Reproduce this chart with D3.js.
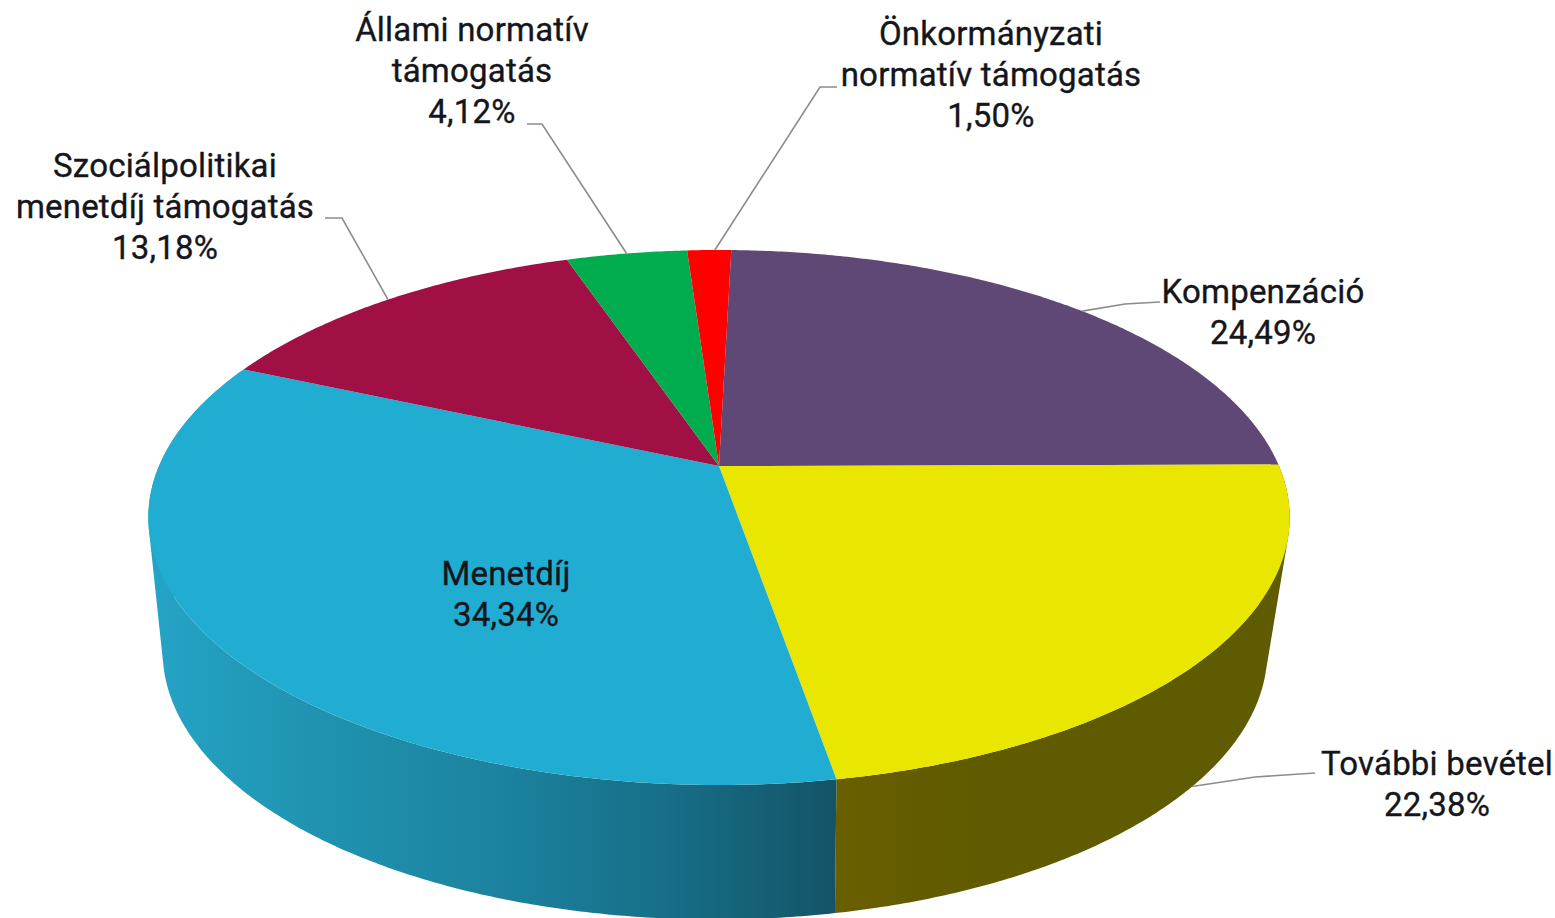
<!DOCTYPE html>
<html lang="hu">
<head>
<meta charset="utf-8">
<title>Bevételi szerkezet</title>
<script src="https://cdn.jsdelivr.net/npm/d3@7/dist/d3.min.js"></script>
<style>
html,body{margin:0;padding:0;background:#fff;overflow:hidden}
svg{display:block}
text{font-family:"Roboto","Liberation Sans",sans-serif;font-size:33px;fill:#14161c;text-anchor:middle;letter-spacing:0.2px;stroke:#14161c;stroke-width:.35px}
</style>
</head>
<body>
<svg id="chart" width="1555" height="918"></svg>
<script>
const categories = ["Kompenzáció","További bevétel","Menetdíj","Szociálpolitikai menetdíj támogatás","Állami normatív támogatás","Önkormányzati normatív támogatás"];
const shares = [24.49,22.38,34.34,13.18,4.12,1.50];
const shareLabels = ["24,49%","22,38%","34,34%","13,18%","4,12%","1,50%"];
const labelLines = [["Kompenzáció"],["További bevétel"],["Menetdíj"],["Szociálpolitikai","menetdíj támogatás"],["Állami normatív","támogatás"],["Önkormányzati","normatív támogatás"]];
const topColors = ["#5f4876","#e9e600","#21add2","#a01045","#00ac4e","#ff0000"];

// styling / layout (not data)
const W = 1555, H = 918, deg = Math.PI / 180, rot = 1.5 * deg, p = 0.1925;
const topDisc = {x:719, y:466, a:560, b:257.6, twist:0};
const botDisc = {x:715, y:600, a:542, b:258, twist:-0.55*deg};
const labelPos = [
  {x:1263,y:303,elbow:[[1160,302],[1125,304]],disc:topDisc,nudge:1.6},
  {x:1437,y:775,elbow:[[1315,773],[1255,777]],disc:botDisc,nudge:0},
  {x:506,y:585,elbow:null},
  {x:165,y:177,elbow:[[325,218],[342,218]],disc:topDisc,nudge:0},
  {x:472,y:41,elbow:[[527,124],[542,124]],disc:topDisc,nudge:0},
  {x:991,y:45,elbow:[[837,87],[820,87]],disc:topDisc,nudge:0.7}
];
const lineStep = 41;

const svg = d3.select("#chart").attr("viewBox",`0 0 ${W} ${H}`);
const pie = d3.pie().sort(null).startAngle(rot).endAngle(rot + 2*Math.PI);
const arcs = pie(shares);

function project(disc, t){
  const a = t + disc.twist, X = Math.sin(a), Y = -Math.cos(a), d = 1 - p*Y;
  return [disc.x + disc.a*X/d, disc.y + disc.b*Y/d];
}
const line = d3.line();
function arcPoints(disc,a0,a1){
  const n = Math.max(8,Math.ceil((a1-a0)*120));
  return d3.range(n+1).map(i=>project(disc,a0+(a1-a0)*i/n));
}
// wall = union of thin quads between matching angles; every quad is wound the same way
// so the overlaps near the tangents do not cancel out under the nonzero fill rule
function wallPath(a0,a1){
  const up = arcPoints(topDisc,a0,a1), lo = arcPoints(botDisc,a0,a1);
  return d3.range(up.length-1).map(i=>{
    const q=[up[i],up[i+1],lo[i+1],lo[i]];
    return line(d3.polygonArea(q)<0?q.reverse():q)+"Z";
  }).join("");
}

const defs = svg.append("defs");
const blue = defs.append("linearGradient").attr("id","sideBlue").attr("gradientUnits","userSpaceOnUse")
  .attr("x1",150).attr("y1",0).attr("x2",836).attr("y2",0);
[[0,"#25a3c6"],[0.25,"#1f93b0"],[0.5,"#1c83a0"],[0.75,"#176f88"],[1,"#135467"]].forEach(([o,c])=>blue.append("stop").attr("offset",o).attr("stop-color",c));
const olive = defs.append("linearGradient").attr("id","sideOlive").attr("gradientUnits","userSpaceOnUse")
  .attr("x1",836).attr("y1",0).attr("x2",1290).attr("y2",0);
[[0,"#6a5f00"],[0.2,"#625b00"],[1,"#5e5b00"]].forEach(([o,c])=>olive.append("stop").attr("offset",o).attr("stop-color",c));

// side walls: only the two front slices are visible
const sideFill = {1:"url(#sideOlive)",2:"url(#sideBlue)"};
svg.append("g").selectAll("path")
  .data(arcs.filter(d=>sideFill[d.index]))
  .join("path")
  .attr("fill",d=>sideFill[d.index])
  .attr("d",d=>wallPath(d.startAngle,d.endAngle));

// top faces
svg.append("g").selectAll("path")
  .data(arcs)
  .join("path")
  .attr("fill",d=>topColors[d.index])
  .attr("d",d=>line([[topDisc.x,topDisc.y]].concat(arcPoints(topDisc,d.startAngle,d.endAngle)))+"Z");

// leader lines
svg.append("g").selectAll("path")
  .data(arcs.filter(d=>labelPos[d.index].elbow))
  .join("path")
  .attr("fill","none").attr("stroke","#8c8c8c").attr("stroke-width",1.6)
  .attr("d",d=>{
    const l = labelPos[d.index], mid=(d.startAngle+d.endAngle)/2 + l.nudge*deg;
    return line(l.elbow.concat([project(l.disc,mid)]));
  });

// labels
const lab = svg.append("g").selectAll("text")
  .data(arcs)
  .join("text")
  .attr("x",d=>labelPos[d.index].x)
  .attr("y",d=>labelPos[d.index].y);
lab.each(function(d){
  const t=d3.select(this);
  labelLines[d.index].concat([shareLabels[d.index]]).forEach((s,i)=>{
    t.append("tspan").attr("x",labelPos[d.index].x).attr("y",labelPos[d.index].y+i*lineStep).text(s);
  });
});
</script>
</body>
</html>
